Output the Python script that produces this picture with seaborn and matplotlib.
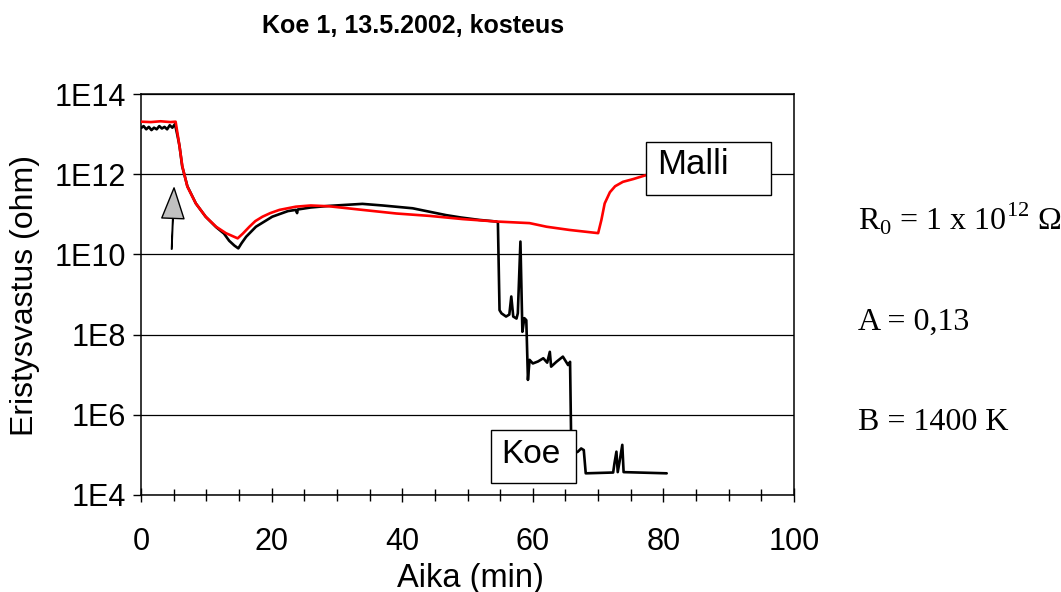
import numpy as np
import pandas as pd
import seaborn as sns
import matplotlib.pyplot as plt
from matplotlib.ticker import MultipleLocator, NullLocator
from matplotlib.patches import Rectangle

# Mittaus (Koe): aika (min) ja log10(resistanssi / ohm)
koe_aika = [0.0, 0.4, 0.8, 1.2, 1.6, 2.0, 2.4, 2.8, 3.2, 3.6, 4.0, 4.4, 4.8, 5.2,
            5.6, 5.9, 6.3, 7.1, 8.4, 9.9, 11.5, 12.7, 13.5, 14.3, 14.9, 15.4,
            16.1, 17.6, 20.1, 22.5, 23.7, 23.9, 24.0, 26.0, 28.8, 33.9, 37.0,
            41.6, 44.0, 46.7, 49.0, 51.8, 54.4, 54.65, 54.9, 55.2, 55.9, 56.4,
            56.7, 57.0, 57.5, 57.7, 58.1, 58.4, 58.7, 59.0, 59.25, 59.5, 60.0,
            60.8, 61.6, 62.2, 62.6, 62.8, 63.6, 64.6, 65.4, 65.7, 65.9, 66.5,
            66.9, 67.4, 67.8, 68.1, 72.3, 72.5, 72.8, 73.0, 73.3, 73.7, 73.9,
            80.5]
koe_log = [13.15, 13.20, 13.12, 13.18, 13.10, 13.16, 13.12, 13.20, 13.14, 13.18,
           13.12, 13.22, 13.16, 13.25, 12.95, 12.70, 12.20, 11.70, 11.27, 10.94,
           10.68, 10.52, 10.34, 10.22, 10.15, 10.28, 10.44, 10.69, 10.94, 11.08,
           11.11, 11.03, 11.12, 11.17, 11.21, 11.26, 11.22, 11.15, 11.07, 10.98,
           10.92, 10.86, 10.82, 10.80, 8.61, 8.53, 8.45, 8.50, 8.95, 8.45, 8.40,
           8.53, 10.32, 8.07, 8.41, 8.36, 6.87, 7.37, 7.28, 7.33, 7.41, 7.30,
           7.57, 7.20, 7.32, 7.45, 7.24, 7.32, 5.00, 5.05, 5.08, 5.16, 5.12,
           4.54, 4.56, 4.79, 5.08, 4.57, 4.85, 5.25, 4.57, 4.54]

# Malli
malli_aika = [0.0, 1.5, 3.0, 4.5, 5.3, 5.83, 6.34, 7.1, 8.4, 9.9, 11.5, 13.0,
              14.8, 15.6, 16.6, 17.5, 18.6, 19.8, 21.2, 23.7, 26.0, 28.8, 33.9,
              39.1, 44.2, 49.3, 54.4, 59.5, 62.1, 65.6, 70.0, 70.5, 71.0, 71.8,
              72.6, 73.8, 75.4, 77.4, 80.5]
malli_log = [13.31, 13.30, 13.32, 13.30, 13.31, 12.77, 12.19, 11.69, 11.27,
             10.94, 10.69, 10.53, 10.40, 10.52, 10.69, 10.83, 10.94, 11.03,
             11.11, 11.19, 11.22, 11.20, 11.11, 11.02, 10.96, 10.88, 10.82,
             10.78, 10.69, 10.61, 10.53, 10.86, 11.27, 11.55, 11.70, 11.81,
             11.88, 11.98, 12.02]

y_tikit = [1e4, 1e6, 1e8, 1e10, 1e12, 1e14]
y_nimet = ['1E4', '1E6', '1E8', '1E10', '1E12', '1E14']

koe = pd.DataFrame({'aika': koe_aika, 'R': 10.0 ** np.array(koe_log)})
malli = pd.DataFrame({'aika': malli_aika, 'R': 10.0 ** np.array(malli_log)})

sns.set_style('white')
plt.rcParams['font.family'] = ['Liberation Sans', 'DejaVu Sans']
plt.rcParams['mathtext.fontset'] = 'custom'
plt.rcParams['mathtext.rm'] = 'Liberation Serif'
plt.rcParams['text.color'] = 'black'
plt.rcParams['axes.labelcolor'] = 'black'
plt.rcParams['xtick.color'] = 'black'
plt.rcParams['ytick.color'] = 'black'

fig = plt.figure(figsize=(10.61, 5.92), dpi=100)
ax = fig.add_axes([0.1329, 0.1639, 0.6155, 0.6773])

sns.lineplot(data=koe, x='aika', y='R', color='black', linewidth=1.9,
             estimator=None, sort=False, ax=ax, zorder=3)
sns.lineplot(data=malli, x='aika', y='R', color='#ff0000', linewidth=1.9,
             estimator=None, sort=False, ax=ax, zorder=4)

ax.set_yscale('log')
ax.set_ylim(1e4, 1e14)
ax.set_xlim(0, 100)
ax.set_yticks(y_tikit)
ax.set_yticklabels(y_nimet)
ax.yaxis.set_minor_locator(NullLocator())
ax.xaxis.set_major_locator(MultipleLocator(20))
ax.xaxis.set_minor_locator(MultipleLocator(5))
ax.set_xlabel('')
ax.set_ylabel('')

ax.yaxis.grid(True, color='black', linewidth=0.9)
ax.xaxis.grid(False)
for s in ax.spines.values():
    s.set_color('black')
    s.set_linewidth(1.1)

ax.tick_params(axis='y', which='major', direction='out', length=6, width=1,
               labelsize=22, pad=5, left=True)
ax.tick_params(axis='x', which='major', direction='inout', length=10, width=1,
               labelsize=22, pad=18, bottom=True)
ax.tick_params(axis='x', which='minor', direction='inout', length=8, width=1,
               bottom=True)

# Nuoli
ax.annotate('', xy=(5.06, 10 ** 11.66), xytext=(4.7, 10 ** 10.13),
            arrowprops=dict(facecolor='#c0c0c0', edgecolor='black', width=0.4,
                            headwidth=16, headlength=22, linewidth=1))

# Selitelaatikot
ax.add_patch(Rectangle((0.773, 0.748), 0.192, 0.132, transform=ax.transAxes,
                       facecolor='white', edgecolor='black', linewidth=1, zorder=6))
ax.text(0.791, 0.825, 'Malli', transform=ax.transAxes, fontsize=25,
        ha='left', va='center', zorder=7)
ax.add_patch(Rectangle((0.536, 0.029), 0.130, 0.133, transform=ax.transAxes,
                       facecolor='white', edgecolor='black', linewidth=1, zorder=6))
ax.text(0.552, 0.102, 'Koe', transform=ax.transAxes, fontsize=24,
        ha='left', va='center', zorder=7)

fig.text(0.389, 0.956, 'Koe 1, 13.5.2002, kosteus', fontsize=18,
         fontweight='bold', ha='center', va='center')
fig.text(0.0236, 0.5, 'Eristysvastus (ohm)', fontsize=23, rotation=90,
         ha='center', va='center')
fig.text(0.443, 0.0085, 'Aika (min)', fontsize=23.5, ha='center', va='baseline')

serif = ['Liberation Serif', 'DejaVu Serif']
fig.text(0.8087, 0.6115, 'R$_0$ = 1 x 10$^{12}$ \u03a9', fontsize=23,
         family=serif, va='baseline')
fig.text(0.8087, 0.4426, 'A = 0,13', fontsize=23, family=serif, va='baseline')
fig.text(0.8087, 0.2736, 'B = 1400 K', fontsize=23, family=serif, va='baseline')

plt.savefig('out.png', dpi=100)
